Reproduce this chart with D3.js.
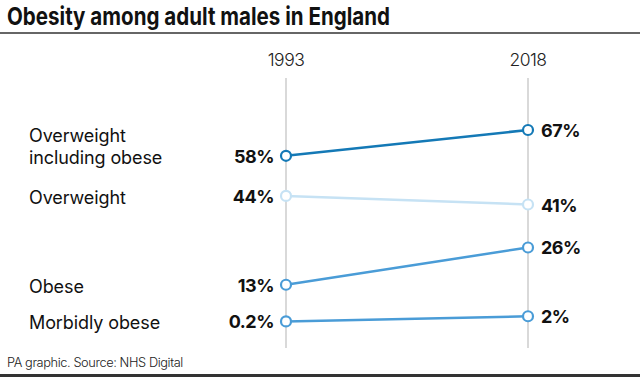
<!DOCTYPE html>
<html>
<head>
<meta charset="utf-8">
<script src="https://cdn.jsdelivr.net/npm/d3@7"></script>
<style>
  body { margin: 0; background: #fff; }
  svg { display: block; font-family: Inter, "Liberation Sans", sans-serif; }
</style>
</head>
<body>
<div id="chart"></div>
<script>
const years = ["1993", "2018"];
const categories = [["Overweight", "including obese"], ["Overweight"], ["Obese"], ["Morbidly obese"]];
const start = [58, 44, 13, 0.2];
const end = [67, 41, 26, 2];
const startLabels = ["58%", "44%", "13%", "0.2%"];
const endLabels = ["67%", "41%", "26%", "2%"];
const colors = ["#1479b6", "#c6e2f4", "#4a9cd7", "#4a9cd7"];

const width = 640, height = 377;

const svg = d3.select("#chart").append("svg")
    .attr("width", width)
    .attr("height", height);

// title + rule
svg.append("text")
    .attr("x", 7).attr("y", 25)
    .style("font-size", "24.5px").style("font-weight", 700)
    .attr("textLength", 383).attr("lengthAdjust", "spacingAndGlyphs")
    .attr("fill", "#111")
    .text("Obesity among adult males in England");
svg.append("line")
    .attr("x1", 0).attr("x2", width).attr("y1", 33).attr("y2", 33)
    .attr("stroke", "#333").attr("stroke-width", 1.5);

const x = d3.scalePoint().domain(years).range([286, 528]);
const y = d3.scaleLinear().domain([0, 67]).range([322, 130]);

// vertical guides and year labels
years.forEach(yr => {
    svg.append("line")
        .attr("x1", x(yr)).attr("x2", x(yr))
        .attr("y1", 78).attr("y2", 348)
        .attr("stroke", "#ccc").attr("stroke-width", 1.5);
    svg.append("text")
        .attr("x", x(yr)).attr("y", 66)
        .attr("text-anchor", "middle")
        .style("font-size", "17.5px").style("font-weight", 300)
        .attr("fill", "#222")
        .style("letter-spacing", "-0.5px")
        .text(yr);
});

const rows = categories.map((c, i) => ({ c, a: start[i], b: end[i], la: startLabels[i], lb: endLabels[i], col: colors[i] }));

const g = svg.append("g");

g.selectAll("line.slope")
    .data(rows)
    .join("line")
    .attr("class", "slope")
    .attr("x1", x(years[0])).attr("x2", x(years[1]))
    .attr("y1", d => y(d.a)).attr("y2", d => y(d.b))
    .attr("stroke", d => d.col).attr("stroke-width", 2.5);

rows.forEach(d => {
    [[years[0], d.a], [years[1], d.b]].forEach(([yr, v]) => {
        g.append("circle")
            .attr("cx", x(yr)).attr("cy", y(v)).attr("r", 5)
            .attr("fill", "#fff")
            .attr("stroke", d.col).attr("stroke-width", 2.2);
    });
});

// value labels
g.selectAll("text.la")
    .data(rows)
    .join("text")
    .attr("class", "la")
    .attr("x", x(years[0]) - 12).attr("y", d => y(d.a) + 7)
    .attr("text-anchor", "end")
    .style("font-size", "18px").style("font-weight", 700)
    .style("letter-spacing", "-0.5px")
    .attr("fill", "#111")
    .text(d => d.la);

g.selectAll("text.lb")
    .data(rows)
    .join("text")
    .attr("class", "lb")
    .attr("x", x(years[1]) + 13).attr("y", d => y(d.b) + 7)
    .style("font-size", "18px").style("font-weight", 700)
    .style("letter-spacing", "-0.5px")
    .attr("fill", "#111")
    .text(d => d.lb);

// category labels
const lh = 22;
rows.forEach(d => {
    const t = g.append("text")
        .attr("x", 29)
        .attr("y", y(d.a) + 8 - (d.c.length - 1) * lh)
        .style("font-size", "18px").style("font-weight", 400)
        .style("letter-spacing", "-0.1px")
        .attr("fill", "#111");
    d.c.forEach((s, k) => {
        t.append("tspan").attr("x", 29).attr("dy", k ? lh : 0).text(s);
    });
});

// footer
svg.append("text")
    .attr("x", 7).attr("y", 367)
    .style("font-size", "12.8px").style("font-weight", 300)
    .style("letter-spacing", "-0.4px")
    .attr("fill", "#222")
    .text("PA graphic. Source: NHS Digital");
svg.append("line")
    .attr("x1", 0).attr("x2", width).attr("y1", 375.5).attr("y2", 375.5)
    .attr("stroke", "#333").attr("stroke-width", 3);
</script>
</body>
</html>
